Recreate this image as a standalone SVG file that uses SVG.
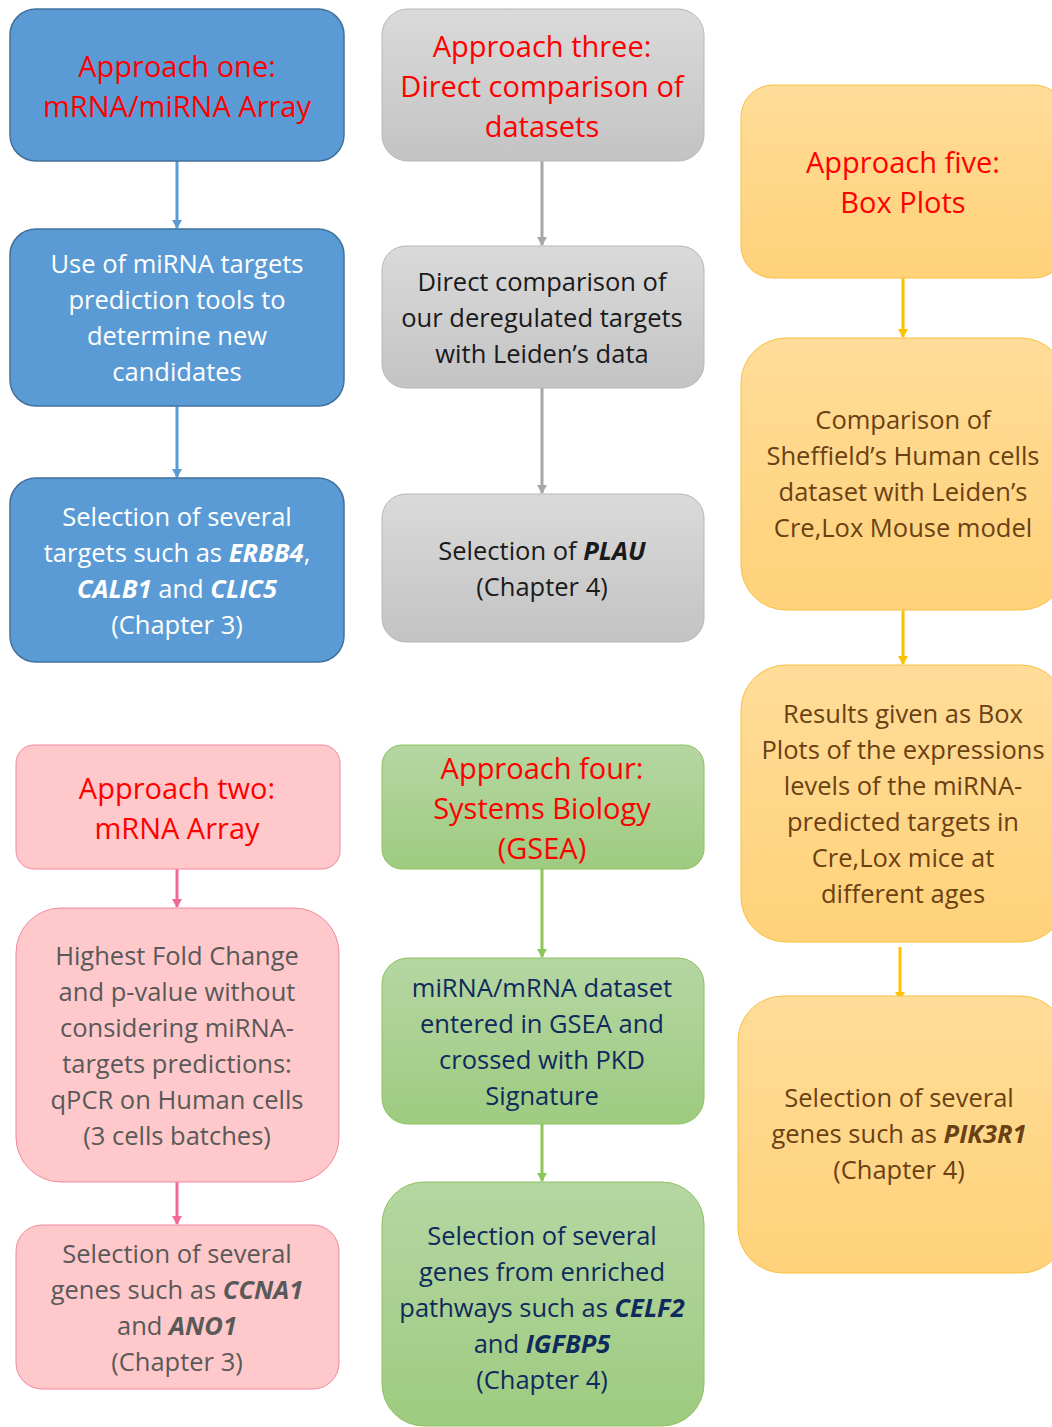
<svg xmlns="http://www.w3.org/2000/svg" width="1052" height="1427" viewBox="0 0 1052 1427">
<style>
text{font-family:"Open Sans","Noto Sans",sans-serif;font-size:25.5px;text-anchor:middle;dominant-baseline:central}
.t{font-size:29px;fill:#ff0000}
.w{fill:#ffffff}.k{fill:#1a1a1a}.g{fill:#595959}.n{fill:#0f2a5c}.o{fill:#6b4113}
.b{font-weight:bold;font-style:italic}
.blue{fill:#5b9bd5;stroke:#41719c;stroke-width:1.5}
.pink{fill:#ffc9cb;stroke:#f2879f;stroke-width:1}
.gray{fill:url(#gg);stroke:#b7b7b7;stroke-width:1}
.green{fill:url(#gr);stroke:#8cc160;stroke-width:1}
.orng{fill:url(#og);stroke:#f6c042;stroke-width:1}
</style>
<defs>
<linearGradient id="gg" x1="0" y1="0" x2="0" y2="1"><stop offset="0" stop-color="#dadada"/><stop offset="1" stop-color="#c3c3c3"/></linearGradient>
<linearGradient id="gr" x1="0" y1="0" x2="0" y2="1"><stop offset="0" stop-color="#b5d6a2"/><stop offset="1" stop-color="#9ecb80"/></linearGradient>
<linearGradient id="og" x1="0" y1="0" x2="0" y2="1"><stop offset="0" stop-color="#ffdc98"/><stop offset="1" stop-color="#ffd27a"/></linearGradient>
<marker id="ab" markerWidth="10" markerHeight="10" refX="8" refY="5" orient="auto" markerUnits="userSpaceOnUse"><path d="M0,0 L9,5 L0,10 Z" fill="#5b9bd5"/></marker>
<marker id="ap" markerWidth="10" markerHeight="10" refX="8" refY="5" orient="auto" markerUnits="userSpaceOnUse"><path d="M0,0 L9,5 L0,10 Z" fill="#f06a95"/></marker>
<marker id="ag" markerWidth="10" markerHeight="10" refX="8" refY="5" orient="auto" markerUnits="userSpaceOnUse"><path d="M0,0 L9,5 L0,10 Z" fill="#a6a6a6"/></marker>
<marker id="agr" markerWidth="10" markerHeight="10" refX="8" refY="5" orient="auto" markerUnits="userSpaceOnUse"><path d="M0,0 L9,5 L0,10 Z" fill="#8dc556"/></marker>
<marker id="ao" markerWidth="10" markerHeight="10" refX="8" refY="5" orient="auto" markerUnits="userSpaceOnUse"><path d="M0,0 L9,5 L0,10 Z" fill="#ffc000"/></marker>
</defs>
<g id="connectors" fill="none" stroke-width="3">
<line x1="177" y1="161" x2="177" y2="228" stroke="#5b9bd5" marker-end="url(#ab)"/>
<line x1="177" y1="406" x2="177" y2="477" stroke="#5b9bd5" marker-end="url(#ab)"/>
<line x1="177" y1="869" x2="177" y2="907" stroke="#f06a95" marker-end="url(#ap)"/>
<line x1="177" y1="1182" x2="177" y2="1224" stroke="#f06a95" marker-end="url(#ap)"/>
<line x1="542" y1="161" x2="542" y2="245" stroke="#a6a6a6" marker-end="url(#ag)"/>
<line x1="542" y1="388" x2="542" y2="493" stroke="#a6a6a6" marker-end="url(#ag)"/>
<line x1="542" y1="869" x2="542" y2="957" stroke="#8dc556" marker-end="url(#agr)"/>
<line x1="542" y1="1124" x2="542" y2="1181" stroke="#8dc556" marker-end="url(#agr)"/>
<line x1="903" y1="278" x2="903" y2="337" stroke="#ffc000" marker-end="url(#ao)"/>
<line x1="903" y1="610" x2="903" y2="664" stroke="#ffc000" marker-end="url(#ao)"/>
<line x1="900" y1="947" x2="900" y2="1000" stroke="#ffc000" marker-end="url(#ao)"/>
</g>
<g id="n1"><rect class="blue" x="10" y="9" width="334" height="152" rx="26"/>
<text class="t" x="177" y="65">Approach one:</text><text class="t" x="177" y="105">mRNA/miRNA Array</text></g>
<g id="n2"><rect class="blue" x="10" y="229" width="334" height="177" rx="26"/>
<text class="w" x="177" y="263">Use of miRNA targets</text><text class="w" x="177" y="299">prediction tools to</text><text class="w" x="177" y="335">determine new</text><text class="w" x="177" y="371">candidates</text></g>
<g id="n3"><rect class="blue" x="10" y="478" width="334" height="184" rx="26"/>
<text class="w" x="177" y="516">Selection of several</text><text class="w" x="177" y="552">targets such as <tspan class="b">ERBB4</tspan>,</text><text class="w" x="177" y="588"><tspan class="b">CALB1</tspan> and <tspan class="b">CLIC5</tspan></text><text class="w" x="177" y="624">(Chapter 3)</text></g>
<g id="n4"><rect class="pink" x="16" y="745" width="324" height="124" rx="18"/>
<text class="t" x="177" y="787">Approach two:</text><text class="t" x="177" y="827">mRNA Array</text></g>
<g id="n5"><rect class="pink" x="16" y="908" width="323" height="274" rx="45"/>
<text class="g" x="177" y="955">Highest Fold Change</text><text class="g" x="177" y="991">and p-value without</text><text class="g" x="177" y="1027">considering miRNA-</text><text class="g" x="177" y="1063">targets predictions:</text><text class="g" x="177" y="1099">qPCR on Human cells</text><text class="g" x="177" y="1135">(3 cells batches)</text></g>
<g id="n6"><rect class="pink" x="16" y="1225" width="323" height="164" rx="26"/>
<text class="g" x="177" y="1253">Selection of several</text><text class="g" x="177" y="1289">genes such as <tspan class="b">CCNA1</tspan></text><text class="g" x="177" y="1325">and <tspan class="b">ANO1</tspan></text><text class="g" x="177" y="1361">(Chapter 3)</text></g>
<g id="n7"><rect class="gray" x="382" y="9" width="322" height="152" rx="26"/>
<text class="t" x="542" y="45">Approach three:</text><text class="t" x="542" y="85">Direct comparison of</text><text class="t" x="542" y="125">datasets</text></g>
<g id="n8"><rect class="gray" x="382" y="246" width="322" height="142" rx="24"/>
<text class="k" x="542" y="281">Direct comparison of</text><text class="k" x="542" y="317">our deregulated targets</text><text class="k" x="542" y="353">with Leiden’s data</text></g>
<g id="n9"><rect class="gray" x="382" y="494" width="322" height="148" rx="24"/>
<text class="k" x="542" y="550">Selection of <tspan class="b">PLAU</tspan></text><text class="k" x="542" y="586">(Chapter 4)</text></g>
<g id="n10"><rect class="green" x="382" y="745" width="322" height="124" rx="20"/>
<text class="t" x="542" y="767">Approach four:</text><text class="t" x="542" y="807">Systems Biology</text><text class="t" x="542" y="847">(GSEA)</text></g>
<g id="n11"><rect class="green" x="382" y="958" width="322" height="166" rx="26"/>
<text class="n" x="542" y="987">miRNA/mRNA dataset</text><text class="n" x="542" y="1023">entered in GSEA and</text><text class="n" x="542" y="1059">crossed with PKD</text><text class="n" x="542" y="1095">Signature</text></g>
<g id="n12"><rect class="green" x="382" y="1182" width="322" height="244" rx="42"/>
<text class="n" x="542" y="1235">Selection of several</text><text class="n" x="542" y="1271">genes from enriched</text><text class="n" x="542" y="1307">pathways such as <tspan class="b">CELF2</tspan></text><text class="n" x="542" y="1343">and <tspan class="b">IGFBP5</tspan></text><text class="n" x="542" y="1379">(Chapter 4)</text></g>
<g id="n13"><rect class="orng" x="741" y="85" width="325" height="193" rx="32"/>
<text class="t" x="903" y="161">Approach five:</text><text class="t" x="903" y="201">Box Plots</text></g>
<g id="n14"><rect class="orng" x="741" y="338" width="325" height="272" rx="45"/>
<text class="o" x="903" y="419">Comparison of</text><text class="o" x="903" y="455">Sheffield’s Human cells</text><text class="o" x="903" y="491">dataset with Leiden’s</text><text class="o" x="903" y="527">Cre,Lox Mouse model</text></g>
<g id="n15"><rect class="orng" x="741" y="665" width="325" height="277" rx="45"/>
<text class="o" x="903" y="713">Results given as Box</text><text class="o" x="903" y="749">Plots of the expressions</text><text class="o" x="903" y="785">levels of the miRNA-</text><text class="o" x="903" y="821">predicted targets in</text><text class="o" x="903" y="857">Cre,Lox mice at</text><text class="o" x="903" y="893">different ages</text></g>
<g id="n16"><rect class="orng" x="738" y="996" width="328" height="277" rx="45"/>
<text class="o" x="899" y="1097">Selection of several</text><text class="o" x="899" y="1133">genes such as <tspan class="b">PIK3R1</tspan></text><text class="o" x="899" y="1169">(Chapter 4)</text></g>
</svg>
